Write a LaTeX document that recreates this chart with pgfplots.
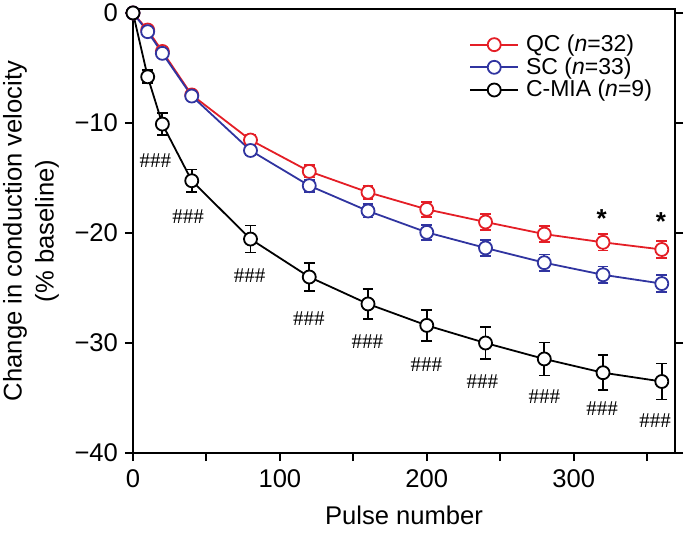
\documentclass[border=0pt]{standalone}
\usepackage{fontspec}
\setmainfont{Liberation Sans}
\newfontfamily\hashfont{Liberation Serif}
\usepackage{pgfplots}
\usepackage{pgfplotstable}
\pgfplotsset{compat=1.18}
\definecolor{qcred}{RGB}{228,30,38}
\definecolor{scblue}{RGB}{48,52,160}

\pgfplotstableread{
x    qc     qce   sc     sce   cm     cme
0    0      0     0      0     0      0
10   -1.55  0.25  -1.70  0.25  -5.80  0.60
20   -3.50  0.30  -3.67  0.30  -10.10 0.98
40   -7.45  0.35  -7.55  0.35  -15.25 1.03
80   -11.55 0.45  -12.50 0.45  -20.55 1.23
120  -14.40 0.55  -15.70 0.55  -24.00 1.30
160  -16.30 0.60  -18.00 0.60  -26.45 1.38
200  -17.85 0.70  -19.94 0.70  -28.40 1.41
240  -19.00 0.70  -21.36 0.72  -30.00 1.48
280  -20.10 0.72  -22.70 0.75  -31.45 1.50
320  -20.85 0.75  -23.80 0.75  -32.70 1.60
360  -21.50 0.75  -24.60 0.75  -33.50 1.64
}\data

\begin{document}
\begin{tikzpicture}
\begin{axis}[
  scale only axis, width=271pt, height=222pt,
  xmin=0, xmax=369, ymin=-40, ymax=0.36,
  clip=false,
  axis line style={line width=1pt},
  xtick={0,100,200,300}, xticklabels={0,100,200,300},
  minor xtick={50,150,250,350},
  ytick={-40,-30,-20,-10,0}, yticklabels={−40,−30,−20,−10,0},
  tick align=outside, xtick pos=bottom, ytick pos=both, yticklabel pos=left,
  major tick length=4pt, minor tick length=4pt,
  every tick/.style={line width=1pt, black},
  ticklabel style={font=\fontsize{12.8}{14}\selectfont},
  xticklabel style={yshift=-1pt},
  xlabel={Pulse number},
  ylabel={Change in conduction velocity\\(\% baseline)},
  label style={font=\fontsize{12.8}{16}\selectfont},
  xlabel style={at={(axis description cs:0.5,0)}, anchor=center, yshift=-31pt},
  ylabel style={at={(axis description cs:0,0.5)}, anchor=center, align=center, yshift=51pt},
  legend style={at={(axis description cs:0.62,0.945)}, anchor=north west, draw=none, fill=none,
    font=\fontsize{11.5}{13}\selectfont, inner sep=0pt, nodes={inner ysep=0.5pt, inner xsep=3.5pt}, row sep=0.5pt},
  legend cell align=left,
  legend image code/.code={\draw[mark repeat=2,mark phase=2] plot coordinates {(0cm,0cm) (0.42cm,0cm) (0.84cm,0cm)};},
  every axis plot/.append style={line width=0.9pt, mark=o, mark size=3.25pt,
     mark options={fill=white, solid, line width=0.9pt}},
  error bars/error bar style={line width=0.9pt},
  error bars/error mark options={rotate=90, mark size=2.7pt, line width=0.9pt},
]
\addplot[color=qcred, mark=*, mark options={fill=white, draw=qcred},
  error bars/.cd, y dir=both, y explicit]
  table[x=x, y=qc, y error=qce] {\data};
\addlegendentry{QC (\textit{n}=32)}
\addplot[color=scblue, mark=*, mark options={fill=white, draw=scblue},
  error bars/.cd, y dir=both, y explicit]
  table[x=x, y=sc, y error=sce] {\data};
\addlegendentry{SC (\textit{n}=33)}
\addplot[color=black, mark=*, mark options={fill=white, draw=black},
  error bars/.cd, y dir=both, y explicit]
  table[x=x, y=cm, y error=cme] {\data};
\addlegendentry{C-MIA (\textit{n}=9)}

\tikzset{hashlbl/.style={font=\hashfont\fontsize{10.5}{12}\selectfont, inner sep=0pt}}
\node[hashlbl] at (axis cs:15.3,-13.4) {\#\#\#};
\node[hashlbl] at (axis cs:37.5,-18.5) {\#\#\#};
\node[hashlbl] at (axis cs:79.4,-23.9) {\#\#\#};
\node[hashlbl] at (axis cs:119.7,-27.75) {\#\#\#};
\node[hashlbl] at (axis cs:159.5,-29.9) {\#\#\#};
\node[hashlbl] at (axis cs:199.8,-31.95) {\#\#\#};
\node[hashlbl] at (axis cs:237.8,-33.5) {\#\#\#};
\node[hashlbl] at (axis cs:280,-34.9) {\#\#\#};
\node[hashlbl] at (axis cs:319.3,-36.0) {\#\#\#};
\node[hashlbl] at (axis cs:355.5,-37.1) {\#\#\#};
\node[font=\bfseries\fontsize{13}{13}\selectfont, anchor=base, yshift=-7.5pt, inner sep=0pt] at (axis cs:319,-18.1) {*};
\node[font=\bfseries\fontsize{13}{13}\selectfont, anchor=base, yshift=-7.5pt, inner sep=0pt] at (axis cs:359.5,-18.4) {*};

\coordinate (SW) at (rel axis cs:0,0);
\coordinate (NE) at (rel axis cs:1,1);
\end{axis}
\pgfresetboundingbox
\path[use as bounding box] ([xshift=-66.5pt,yshift=-39.5pt]SW) rectangle ([xshift=5pt,yshift=4.5pt]NE);
\end{tikzpicture}
\end{document}
